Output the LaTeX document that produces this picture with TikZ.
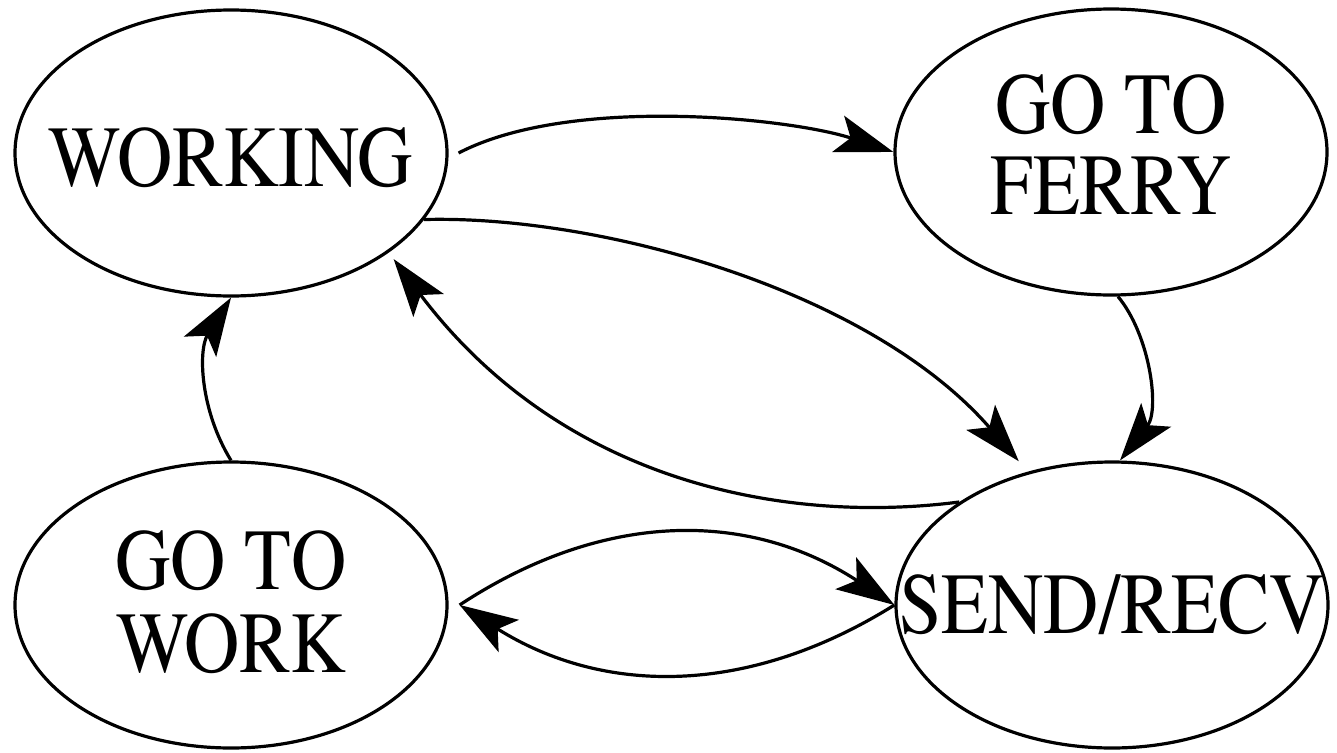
\documentclass[tikz,border=0pt]{standalone}
\usepackage{fontspec}
\setmainfont{TeX Gyre Termes}
\usetikzlibrary{shapes.geometric,arrows.meta}
\newcommand{\sq}[2]{\raisebox{-#1}[\height][\depth]{\scalebox{0.88}[1]{\begin{tabular}{@{}c@{}}#2\end{tabular}}}}
\begin{document}
\begin{tikzpicture}[x=1pt,y=-1pt,
  state/.style={ellipse,draw,line width=3.2pt,minimum width=432pt,minimum height=286pt,
    inner xsep=-80pt,inner ysep=0pt,font=\fontsize{87}{80}\selectfont},
  conn/.style={line width=3.2pt,-{Stealth[length=58pt,width=38pt,inset=13pt]}}]
\useasboundingbox (0,0) rectangle (1337,752);
\node[state] (working) at (231,153) {\sq{16.5pt}{WORKING}};
\node[state] (ferry) at (1111,152) {\sq{4.5pt}{GO TO\\FERRY}};
\node[state] (gowork) at (231,605) {\sq{8.5pt}{GO TO\\WORK}};
\node[state] (send) at (1112,605) {\sq{11pt}{SEND/RECV}};
\draw[conn] ([xshift=10pt]working.east) .. controls (570,95) and (790,118) .. (ferry.west);
\draw[conn] (working.-19) .. controls (600,215) and (870,290) .. ([shift={(-7pt,11pt)}]send.123);
\draw[conn] (send.146) .. controls (780,525) and (560,480) .. ([shift={(7pt,-5pt)}]working.-33);
\draw[conn] ([xshift=7pt]ferry.south) .. controls (1150,335) and (1160,410) .. ([xshift=8pt]send.north);
\draw[conn] ([xshift=11pt]gowork.east) .. controls (604,510) and (749,510) .. (send.west);
\draw[conn] (send.west) .. controls (749,696) and (604,696) .. ([xshift=11pt]gowork.east);
\draw[conn] (gowork.north) .. controls (200,410) and (198,350) .. (working.south);
\end{tikzpicture}
\end{document}
